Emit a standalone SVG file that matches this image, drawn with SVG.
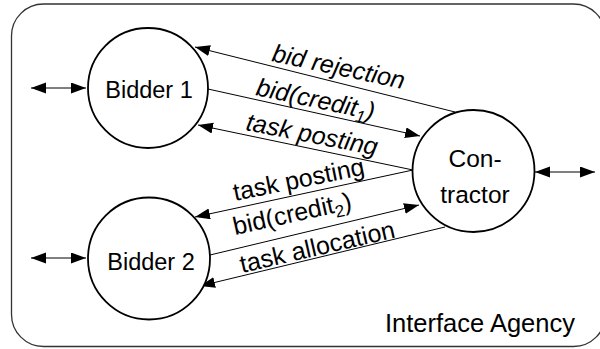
<svg xmlns="http://www.w3.org/2000/svg" width="600" height="349" viewBox="0 0 600 349">
<defs>
<style>
text{font-family:"Liberation Sans",Arial,sans-serif;fill:#000}
.node{fill:#fff;stroke:#000;stroke-width:1.8}
.lbl{font-size:25px}
.it{font-style:italic}
.conn line{stroke:#000;stroke-width:1}
</style>
<marker id="ah" markerUnits="userSpaceOnUse" markerWidth="16" markerHeight="12" refX="15" refY="5.5" orient="auto-start-reverse">
<path d="M0,0 L15,5.5 L0,11 z" fill="#000"/>
</marker>
</defs>
<rect x="11.5" y="4" width="594" height="342.5" rx="32" ry="32" fill="#fff" stroke="#333" stroke-width="1.3"/>
<g class="conn">
<line x1="31" y1="88" x2="86" y2="88" marker-start="url(#ah)" marker-end="url(#ah)"/>
<line x1="31" y1="258" x2="86" y2="258" marker-start="url(#ah)" marker-end="url(#ah)"/>
<line x1="535" y1="172" x2="595" y2="172" marker-start="url(#ah)" marker-end="url(#ah)"/>
<line x1="455" y1="112" x2="195" y2="47" marker-end="url(#ah)"/>
<line x1="208" y1="89" x2="420" y2="136" marker-end="url(#ah)"/>
<line x1="413" y1="170" x2="198" y2="125" marker-end="url(#ah)"/>
<line x1="413" y1="170" x2="195" y2="217" marker-end="url(#ah)"/>
<line x1="210" y1="255" x2="419" y2="205" marker-end="url(#ah)"/>
<line x1="445" y1="227" x2="200" y2="286" marker-end="url(#ah)"/>
</g>
<g id="bidder1">
<circle class="node" cx="148" cy="88" r="60"/>
<text x="149" y="98" font-size="23.5" text-anchor="middle">Bidder 1</text>
</g>
<g id="bidder2">
<circle class="node" cx="149" cy="258.5" r="61"/>
<text x="151" y="270" font-size="23.5" text-anchor="middle">Bidder 2</text>
</g>
<g id="contractor">
<circle class="node" cx="473.5" cy="171" r="61"/>
<text x="475" y="167" font-size="24.5" text-anchor="middle">Con-</text>
<text x="475" y="203" font-size="24.5" text-anchor="middle">tractor</text>
</g>
<g id="labels">
<text class="lbl it" transform="translate(271,61) rotate(12)">bid rejection</text>
<text class="lbl it" transform="translate(255,95) rotate(12)">bid(credit<tspan font-size="17" dy="5">1</tspan><tspan dy="-5">)</tspan></text>
<text class="lbl it" transform="translate(245,130) rotate(11)">task posting</text>
<text class="lbl" transform="translate(235,201) rotate(-11.5)">task posting</text>
<text class="lbl" transform="translate(235,235) rotate(-12.5)">bid(credit<tspan font-size="17" dy="5">2</tspan><tspan dy="-5">)</tspan></text>
<text class="lbl" transform="translate(242,273) rotate(-13)">task allocation</text>
</g>
<text x="385" y="332" font-size="25.5">Interface Agency</text>
</svg>
